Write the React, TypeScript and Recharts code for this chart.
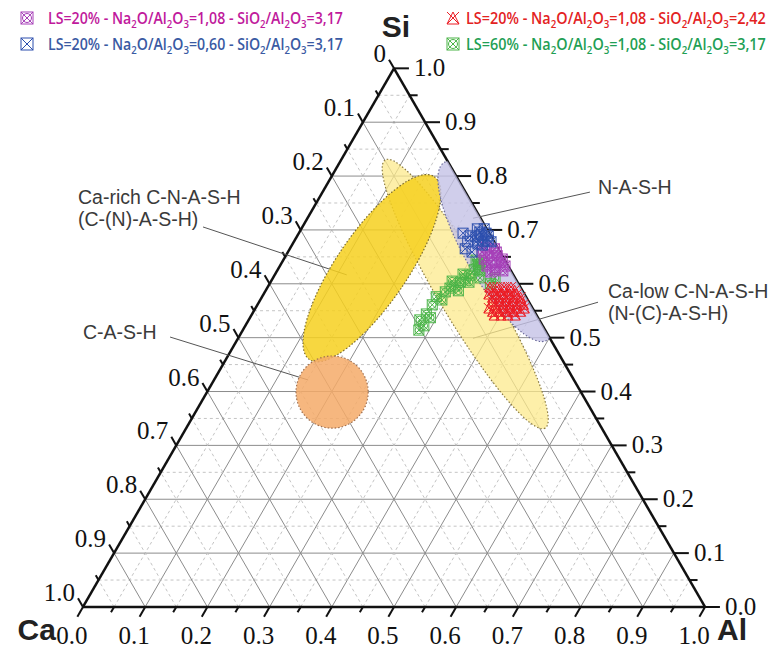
import React, { useLayoutEffect, useRef, useState } from "react";
import { ScatterChart, Scatter, XAxis, YAxis, ReferenceLine } from "recharts";

const W = 772;
const H = 653;
const X_DOMAIN: [number, number] = [-0.1334, 1.1077];
const Y_DOMAIN: [number, number] = [-0.074, 0.9759];
const PX = W / (X_DOMAIN[1] - X_DOMAIN[0]); // pixels per unit side
const K = Math.sqrt(3) / 2;

type Pt = { x: number; y: number };
// ternary [Al, Si] -> cartesian chart units (Ca = 1 - Al - Si)
const tern = (al: number, si: number): Pt => ({ x: al + si / 2, y: si * K });

const TICKS = [
  0, 0.05, 0.1, 0.15, 0.2, 0.25, 0.3, 0.35, 0.4, 0.45, 0.5, 0.55, 0.6, 0.65,
  0.7, 0.75, 0.8, 0.85, 0.9, 0.95, 1,
];
const MAJOR = [0, 0.1, 0.2, 0.3, 0.4, 0.5, 0.6, 0.7, 0.8, 0.9, 1];
const alLabels = ["0.0", "0.1", "0.2", "0.3", "0.4", "0.5", "0.6", "0.7", "0.8", "0.9", "1.0"];
const siLabels = ["0.0", "0.1", "0.2", "0.3", "0.4", "0.5", "0.6", "0.7", "0.8", "0.9", "1.0"];
const caLabels = ["0", "0.1", "0.2", "0.3", "0.4", "0.5", "0.6", "0.7", "0.8", "0.9", "1.0"];

// measured compositions, [Al, Si]
const magentaPts: [number, number][] = [
  [0.314, 0.668], [0.329, 0.665], [0.326, 0.653], [0.34, 0.652], [0.322, 0.646],
  [0.337, 0.64], [0.351, 0.639], [0.333, 0.633], [0.349, 0.627], [0.363, 0.624],
  [0.345, 0.622], [0.362, 0.633], [0.312, 0.659], [0.335, 0.659], [0.351, 0.646],
];
const bluePts: [number, number][] = [
  [0.283, 0.702], [0.294, 0.702], [0.295, 0.691], [0.307, 0.689], [0.288, 0.687],
  [0.305, 0.679], [0.317, 0.678], [0.298, 0.674], [0.264, 0.694], [0.278, 0.689],
  [0.279, 0.679], [0.282, 0.665], [0.296, 0.659], [0.29, 0.696], [0.301, 0.694],
  [0.294, 0.681], [0.311, 0.681], [0.306, 0.672],
];
const redPts: [number, number][] = [
  [0.357, 0.594], [0.369, 0.594], [0.38, 0.594], [0.391, 0.594],
  [0.366, 0.588], [0.377, 0.588], [0.389, 0.588], [0.4, 0.588],
  [0.362, 0.581], [0.374, 0.581], [0.385, 0.581], [0.396, 0.581], [0.407, 0.581],
  [0.371, 0.575], [0.382, 0.575], [0.394, 0.575], [0.405, 0.575], [0.416, 0.575],
  [0.374, 0.568], [0.385, 0.568], [0.396, 0.568], [0.407, 0.568], [0.419, 0.568],
  [0.382, 0.562], [0.394, 0.562], [0.405, 0.562], [0.416, 0.562], [0.427, 0.562],
  [0.375, 0.555], [0.387, 0.555], [0.398, 0.555], [0.409, 0.555], [0.42, 0.555], [0.432, 0.555],
  [0.384, 0.549], [0.395, 0.549], [0.407, 0.549], [0.418, 0.549], [0.429, 0.549],
  [0.39, 0.542], [0.401, 0.542], [0.412, 0.542], [0.424, 0.542],
];
const greenPts: [number, number][] = [
  [0.29, 0.585], [0.294, 0.592], [0.3, 0.596], [0.291, 0.605], [0.305, 0.603],
  [0.31, 0.609], [0.302, 0.618], [0.314, 0.616], [0.316, 0.626], [0.319, 0.633],
  [0.321, 0.64], [0.326, 0.624], [0.318, 0.636], [0.31, 0.644], [0.319, 0.603],
  [0.333, 0.611], [0.355, 0.6], [0.357, 0.611], [0.31, 0.587],
  [0.28, 0.576], [0.292, 0.57], [0.281, 0.561],
  [0.275, 0.533], [0.28, 0.544], [0.287, 0.522], [0.29, 0.537], [0.283, 0.514],
];

// gel domains: centre [Al, Si], semi-axes (side units), tilt in degrees
const caLowZone = { al: 0.324, si: 0.581, a: 0.251, b: 0.042, tilt: -59.2 };
const caRichZone = { al: 0.15, si: 0.629, a: 0.178, b: 0.057, tilt: 55.7 };
const cashZone = { al: 0.201, si: 0.399, a: 0.058, b: 0.058, tilt: 0 };
const nashZone = { al: 0.333, si: 0.66, a: 0.165, b: 0.048, tilt: -60 };

const notes = [
  { x: 0.828, y: 0.664, text: "N-A-S-H" },
  { x: 0.844, y: 0.497, text: "Ca-low C-N-A-S-H" },
  { x: 0.844, y: 0.461, text: "(N-(C)-A-S-H)" },
  { x: -0.008, y: 0.648, text: "Ca-rich C-N-A-S-H" },
  { x: -0.008, y: 0.6125, text: "(C-(N)-A-S-H)" },
  { x: 0, y: 0.431, text: "C-A-S-H" },
];
const leaders: [Pt, Pt][] = [
  [{ x: 0.815, y: 0.667 }, { x: 0.627, y: 0.625 }],
  [{ x: 0.828, y: 0.49 }, { x: 0.627, y: 0.432 }],
  [{ x: 0.193, y: 0.611 }, { x: 0.424, y: 0.534 }],
  [{ x: 0.14, y: 0.434 }, { x: 0.362, y: 0.365 }],
];

const series = [
  { name: "LS=20% - Na_2O/Al_2O_3=1,08 - SiO_2/Al_2O_3=3,17", pts: magentaPts, color: "#a63fb8", text: "#c0199c", kind: "boxo" },
  { name: "LS=20% - Na_2O/Al_2O_3=0,60 - SiO_2/Al_2O_3=3,17", pts: bluePts, color: "#2c4fae", text: "#3a5aa3", kind: "box" },
  { name: "LS=20% - Na_2O/Al_2O_3=1,08 - SiO_2/Al_2O_3=2,42", pts: redPts, color: "#ec1c24", text: "#e3231f", kind: "tri" },
  { name: "LS=60% - Na_2O/Al_2O_3=1,08 - SiO_2/Al_2O_3=3,17", pts: greenPts, color: "#4ab447", text: "#1f9f55", kind: "boxo" },
];
// drawing order of the point clouds (green underneath)
const drawOrder = [3, 0, 1, 2];

function Glyph({ cx, cy, r, color, kind }: any) {
  const x = `M${cx - r},${cy - r}L${cx + r},${cy + r}M${cx + r},${cy - r}L${cx - r},${cy + r}`;
  if (kind === "tri") {
    return (
      <g fill="none" stroke={color} strokeWidth={1}>
        <path d={`M${cx - r},${cy + r}L${cx},${cy - r}L${cx + r},${cy + r}Z`} />
        <path d={x} />
      </g>
    );
  }
  return (
    <g fill="none" stroke={color} strokeWidth={1}>
      <rect x={cx - r} y={cy - r} width={2 * r} height={2 * r} />
      <path d={x} />
      {kind === "boxo" && <circle cx={cx} cy={cy} r={r * 0.75} />}
    </g>
  );
}

const zoneShape = (z: any, fill: string, stroke: string, clip = false) => (p: any) => {
  const el = (
    <ellipse
      cx={p.cx}
      cy={p.cy}
      rx={z.a * PX}
      ry={z.b * PX}
      transform={`rotate(${-z.tilt} ${p.cx} ${p.cy})`}
      fill={fill}
      stroke={stroke}
      strokeWidth={1.2}
      strokeDasharray="1.5 2"
    />
  );
  return clip ? <g clipPath="url(#tri-clip)">{el}</g> : el;
};

const clipShape = (p: any) => (
  <defs>
    <clipPath id="tri-clip">
      <polygon points={`${p.cx},${p.cy} ${p.cx + PX},${p.cy} ${p.cx + PX / 2},${p.cy - PX * K}`} />
    </clipPath>
  </defs>
);

const SERIF = "'Liberation Serif', 'Times New Roman', 'DejaVu Serif', serif";
const SANS = "'Liberation Sans', Arial, sans-serif";

const tickLabel = (dx: number, dy: number, anchor: string) => (p: any) => (
  <text x={p.cx + dx} y={p.cy + dy} textAnchor={anchor} style={{ fontFamily: SERIF }} fontSize={25} fill="#111">
    {p.payload.text}
  </text>
);

const noteShape = (p: any) => (
  <text x={p.cx} y={p.cy} style={{ fontFamily: SANS }} fontSize={19.5} fill="#3a3a3a">
    {p.payload.text}
  </text>
);

const cornerOffsets: Record<string, [number, number, string]> = {
  Si: [2, -31, "middle"],
  Ca: [-27, 33, "end"],
  Al: [12, 33, "start"],
};
const cornerShape = (p: any) => {
  const [dx, dy, anchor] = cornerOffsets[p.payload.text];
  return (
    <text x={p.cx + dx} y={p.cy + dy} textAnchor={anchor} style={{ fontFamily: SANS }} fontWeight="bold" fontSize={30} fill="#222">
      {p.payload.text}
    </text>
  );
};

// legend formula: squeezed horizontally to the measured width of the original
function Formula({ text, x, y, width, color }: any) {
  const ref = useRef<SVGTextElement>(null);
  const [sx, setSx] = useState(0.84);
  useLayoutEffect(() => {
    if (ref.current) {
      const w = ref.current.getBBox().width;
      if (w > 0) setSx(width / w);
    }
  }, [text, width]);
  const parts = text.split(/_(\d)/);
  return (
    <g transform={`translate(${x},${y}) scale(${sx},1)`}>
      <text ref={ref} x={0} y={0} fill={color} style={{ fontFamily: "'Open Sans', sans-serif" }} fontWeight={600} fontSize={17}>
        {parts.map((s: string, i: number) =>
          i % 2 ? (
            <tspan key={i} dy={4} fontSize={11.5}>{s}</tspan>
          ) : (
            <tspan key={i} dy={i ? -4 : 0}>{s}</tspan>
          )
        )}
      </text>
    </g>
  );
}

const isMajor = (v: number) => Math.round(v * 20) % 2 === 0;

export default function App() {
  const grid: { major: boolean; seg: [Pt, Pt] }[] = [];
  TICKS.slice(1, -1).forEach((v) => {
    const major = isMajor(v);
    grid.push({ major, seg: [tern(0, v), tern(1 - v, v)] });
    grid.push({ major, seg: [tern(v, 0), tern(v, 1 - v)] });
    grid.push({ major, seg: [tern(1 - v, 0), tern(0, 1 - v)] });
  });

  const ticks: [Pt, Pt][] = [];
  TICKS.forEach((v) => {
    const major = isMajor(v);
    const b = tern(v, 0);
    const lb = major ? 0.018 : 0.01;
    ticks.push([b, { x: b.x - 0.5 * lb, y: b.y - K * lb }]);
    const r = tern(1 - v, v);
    const lr = major ? 0.024 : 0.013;
    ticks.push([r, { x: r.x + lr, y: r.y }]);
    const l = tern(0, 1 - v);
    const ll = major ? 0.016 : 0.009;
    ticks.push([l, { x: l.x - 0.5 * ll, y: l.y + K * ll }]);
  });

  const corners = [tern(0, 0), tern(1, 0), tern(0, 1)];
  const frame: [Pt, Pt][] = [
    [corners[0], corners[1]],
    [corners[1], corners[2]],
    [corners[2], corners[0]],
  ];

  const bottomLbl = MAJOR.map((v, i) => ({ ...tern(v, 0), text: alLabels[i] }));
  const rightLbl = MAJOR.map((v, i) => ({ ...tern(1 - v, v), text: siLabels[i] }));
  const leftLbl = MAJOR.map((v, i) => ({ ...tern(0, 1 - v), text: caLabels[i] }));
  const cornerLbl = [
    { ...corners[0], text: "Ca" },
    { ...corners[1], text: "Al" },
    { ...corners[2], text: "Si" },
  ];

  const legendPos = [
    { ix: 27, iy: 18, tx: 48, ty: 24, w: 295 },
    { ix: 27, iy: 44, tx: 48, ty: 50, w: 295 },
    { ix: 453, iy: 18, tx: 466, ty: 24, w: 300 },
    { ix: 453, iy: 44, tx: 466, ty: 50, w: 300 },
  ];

  return (
    <div style={{ position: "absolute", left: 0, top: 0, width: W, height: H, background: "#fff" }}>
      <ScatterChart width={W} height={H} margin={{ top: 0, right: 0, bottom: 0, left: 0 }}>
        <XAxis type="number" dataKey="x" domain={X_DOMAIN} hide allowDataOverflow />
        <YAxis type="number" dataKey="y" domain={Y_DOMAIN} hide allowDataOverflow />
        <Scatter data={[corners[0]]} shape={clipShape} isAnimationActive={false} />
        <Scatter data={[tern(caLowZone.al, caLowZone.si)]} shape={zoneShape(caLowZone, "rgba(252,234,140,0.75)", "#8a7a40")} isAnimationActive={false} />
        <Scatter data={[tern(caRichZone.al, caRichZone.si)]} shape={zoneShape(caRichZone, "rgba(246,208,30,0.85)", "#7a6a30")} isAnimationActive={false} />
        <Scatter data={[tern(cashZone.al, cashZone.si)]} shape={zoneShape(cashZone, "rgba(245,170,105,0.85)", "#a07050")} isAnimationActive={false} />
        <Scatter data={[tern(nashZone.al, nashZone.si)]} shape={zoneShape(nashZone, "rgba(196,194,230,0.8)", "#6a6a9a", true)} isAnimationActive={false} />

        {grid.map((g, i) => (
          <ReferenceLine
            key={`g${i}`}
            segment={g.seg}
            stroke={g.major ? "#8c8c8c" : "#c4c4c4"}
            strokeWidth={1}
            strokeDasharray={g.major ? undefined : "3 3"}
          />
        ))}
        {ticks.map((t, i) => (
          <ReferenceLine key={`t${i}`} segment={t} stroke="#111" strokeWidth={2} />
        ))}
        {frame.map((f, i) => (
          <ReferenceLine key={`f${i}`} segment={f} stroke="#111" strokeWidth={2.5} />
        ))}
        {leaders.map((s, i) => (
          <ReferenceLine key={`l${i}`} segment={s} stroke="#555" strokeWidth={1} />
        ))}

        {drawOrder.map((k) => {
          const s = series[k];
          return (
            <Scatter
              key={s.name}
              name={s.name}
              data={s.pts.map(([al, si]) => tern(al, si))}
              shape={(p: any) => <Glyph cx={p.cx} cy={p.cy} r={5} color={s.color} kind={s.kind} />}
              isAnimationActive={false}
            />
          );
        })}

        <Scatter data={bottomLbl} shape={tickLabel(-11, 37, "middle")} isAnimationActive={false} />
        <Scatter data={rightLbl} shape={tickLabel(20, 8, "start")} isAnimationActive={false} />
        <Scatter data={leftLbl} shape={tickLabel(-8, -6, "end")} isAnimationActive={false} />
        <Scatter data={cornerLbl} shape={cornerShape} isAnimationActive={false} />
        <Scatter data={notes} shape={noteShape} isAnimationActive={false} />
      </ScatterChart>

      <svg width={W} height={60} style={{ position: "absolute", left: 0, top: 0, pointerEvents: "none" }}>
        {series.map((s, i) => {
          const lp = legendPos[i];
          return (
            <g key={s.name}>
              <Glyph cx={lp.ix} cy={lp.iy} r={6} color={s.color} kind={s.kind} />
              <Formula text={s.name} x={lp.tx} y={lp.ty} width={lp.w} color={s.text} />
            </g>
          );
        })}
      </svg>
    </div>
  );
}
